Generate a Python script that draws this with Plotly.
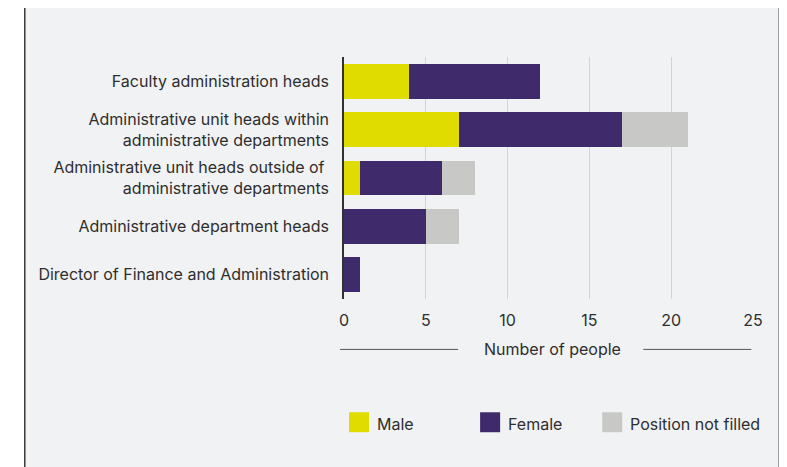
import plotly.graph_objects as go

categories = [
    "Faculty administration heads",
    "Administrative unit heads within<br>administrative departments",
    "Administrative unit heads outside of <br>administrative departments",
    "Administrative department heads",
    "Director of Finance and Administration",
]
male = [4, 7, 1, 0, 0]
female = [8, 10, 5, 5, 1]
not_filled = [0, 4, 2, 2, 0]
series_names = ["Male", "Female", "Position not filled"]
colors = ["#e0dc00", "#3f2a6b", "#c8c8c6"]
x_ticks = [0, 5, 10, 15, 20, 25]

OFF = 8  # page body margin
W, H = 787 - OFF, 467 - OFF
L, R, T, B = 344 - OFF, 752.7 - OFF, 57 - OFF, 299.5 - OFF
FONT = "Inter"
FS = 16
TXT = "#2e2e2e"

def px(x):
    return (x - OFF - L) / (R - L)

def py(y):
    return (B - (y - OFF)) / (B - T)

fig = go.Figure()
for name, vals, col in zip(series_names, [male, female, not_filled], colors):
    fig.add_trace(go.Bar(y=categories, x=vals, name=name, orientation="h",
                         marker=dict(color=col, line=dict(width=0)),
                         showlegend=False))

shapes = []
shapes.append(dict(type="rect", xref="paper", yref="paper",
                   x0=px(25), x1=px(779), y0=py(480), y1=py(6),
                   fillcolor="#f1f2f4", line=dict(width=0), layer="below"))
for (x0, y0, x1, y1) in [(25, 6, 779, 6), (25, 6, 25, 480), (779, 6, 779, 480)]:
    shapes.append(dict(type="line", xref="paper", yref="paper",
                       x0=px(x0), x1=px(x1), y0=py(y0), y1=py(y1),
                       line=dict(color="#3a3a3a", width=1.5), layer="above"))
for (x0, x1) in [(340, 458), (643, 751)]:
    shapes.append(dict(type="line", xref="paper", yref="paper",
                       x0=px(x0), x1=px(x1), y0=py(350), y1=py(350),
                       line=dict(color="#555555", width=1)))

annotations = [dict(text="Number of people", xref="paper", yref="paper",
                    x=px(552.5), y=py(350), showarrow=False,
                    font=dict(family=FONT, size=FS, color=TXT),
                    xanchor="center", yanchor="middle")]

leg_x = [349, 480, 602]
for name, col, lx in zip(series_names, colors, leg_x):
    shapes.append(dict(type="rect", xref="paper", yref="paper",
                       x0=px(lx), x1=px(lx + 20), y0=py(433), y1=py(413),
                       fillcolor=col, line=dict(width=0)))
    annotations.append(dict(text=name, xref="paper", yref="paper",
                            x=px(lx + 26), y=py(425), showarrow=False,
                            xanchor="left", yanchor="middle",
                            font=dict(family=FONT, size=FS, color=TXT)))

fig.update_layout(
    width=W, height=H, barmode="stack", bargap=0.28,
    margin=dict(l=L, r=W - R, t=T, b=H - B, pad=0),
    paper_bgcolor="white", plot_bgcolor="#f1f2f4",
    font=dict(family=FONT, size=FS, color=TXT),
    shapes=shapes, annotations=annotations,
    xaxis=dict(range=[0, 25], tickvals=x_ticks, showgrid=True,
               gridcolor="#d2d3d5", gridwidth=1, zeroline=False,
               ticks="outside", ticklen=7, tickcolor="rgba(0,0,0,0)",
               tickfont=dict(family=FONT, size=FS, color=TXT)),
    yaxis=dict(autorange="reversed", showline=True, linecolor="#333333",
               linewidth=1.5, ticks="outside", ticklen=10,
               tickcolor="rgba(0,0,0,0)", showgrid=False,
               tickfont=dict(family=FONT, size=FS, color=TXT)),
)

fig.write_html("out.html")
